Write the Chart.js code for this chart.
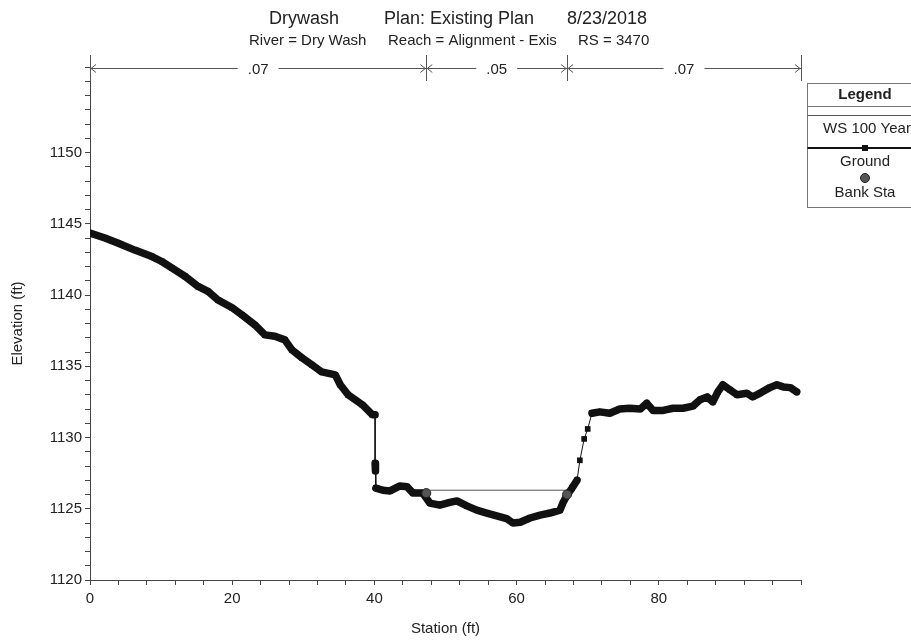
<!DOCTYPE html>
<html>
<head>
<meta charset="utf-8">
<script src="https://cdn.jsdelivr.net/npm/chart.js@4"></script>
<style>
	body { margin: 0; background: #fff; }
	#wrap { width: 911px; height: 641px; }
</style>
</head>
<body>
<div id="wrap"><canvas id="chart"></canvas></div>
<script>
// ground profile
const stations = [0, 2.1, 3.9, 6.3, 8.7, 10.1, 11.5, 13.4, 15.2, 16.6, 18.0, 20.0, 21.4, 23.2, 24.6,
	26.0, 27.4, 28.4, 29.8, 31.2, 32.6, 34.5, 35.2, 36.3, 38.3, 39.7, 40.1, 40.1, 40.15, 40.2,
	41.2, 42.2, 43.6, 44.6, 45.4, 46.8, 47.8, 49.2, 50.6, 51.6, 53.0, 54.4, 55.8, 57.2, 58.6,
	59.5, 60.5, 61.9, 63.3, 64.7, 66.1, 66.5, 67.1, 67.8, 68.5, 68.9, 69.5, 70.0, 70.6, 71.7,
	73.1, 74.5, 75.9, 77.4, 78.3, 79.2, 80.6, 82.0, 83.4, 84.8, 85.8, 86.8, 87.6, 88.3, 89.0,
	90.0, 91.0, 92.4, 93.2, 94.2, 95.6, 96.6, 97.5, 98.5, 99.4]
const elevations = [1144.35, 1144.0, 1143.65, 1143.15, 1142.7, 1142.35, 1141.9, 1141.3, 1140.6, 1140.25, 1139.65, 1139.1, 1138.6, 1137.9, 1137.2,
	1137.1, 1136.85, 1136.15, 1135.6, 1135.1, 1134.6, 1134.4, 1133.7, 1133.0, 1132.3, 1131.6, 1131.6, 1128.2, 1127.65, 1126.45,
	1126.3, 1126.25, 1126.6, 1126.55, 1126.1, 1126.1, 1125.4, 1125.25, 1125.45, 1125.55, 1125.2, 1124.9, 1124.7, 1124.5, 1124.3,
	1124.0, 1124.05, 1124.35, 1124.55, 1124.7, 1124.9, 1125.4, 1125.95, 1126.45, 1127.0, 1128.4, 1129.9, 1130.6, 1131.7, 1131.8,
	1131.7, 1132.0, 1132.05, 1132.0, 1132.4, 1131.9, 1131.9, 1132.05, 1132.05, 1132.2, 1132.65, 1132.85, 1132.5, 1133.2, 1133.7,
	1133.35, 1133.0, 1133.1, 1132.85, 1133.1, 1133.5, 1133.7, 1133.55, 1133.5, 1133.2]

const bankStations = [47.3, 67.1]
const bankElevations = [1126.1, 1126.0]

const wsStations = [45.2, 67.6]
const wsElevation = 1126.3

const nValues = [".07", ".05", ".07"]

const titleParts = ["Drywash", "Plan: Existing Plan", "8/23/2018"]
const subtitleParts = ["River = Dry Wash", "Reach = Alignment - Exis", "RS = 3470"]
const legendItems = ["WS 100 Year", "Ground", "Bank Sta"]

const FONT = "'Liberation Sans', Arial, sans-serif"
Chart.defaults.font.family = FONT
Chart.defaults.color = "#222"

// title, Manning's n bracket and the boxed legend
const decorations = {
	id: "decorations",
	afterDraw(chart) {
		let c = chart.ctx
		let xs = chart.scales.x
		c.save()
		c.fillStyle = "#222"
		c.textBaseline = "middle"
		c.textAlign = "left"

		c.font = "18px " + FONT
		let tx = [269, 384, 567]
		titleParts.forEach((t, i) => c.fillText(t, tx[i], 19))
		c.font = "15px " + FONT
		let sx = [249, 388, 578]
		subtitleParts.forEach((t, i) => c.fillText(t, sx[i], 41))

		// n value bracket
		let breaks = [xs.min].concat(bankStations, [xs.max]).map(v => xs.getPixelForValue(v))
		let y = 68
		c.strokeStyle = "#555"
		c.lineWidth = 1
		c.beginPath()
		breaks.forEach(px => {
			c.moveTo(Math.round(px) + 0.5, 55)
			c.lineTo(Math.round(px) + 0.5, 81)
		})
		c.stroke()
		c.font = "15px " + FONT
		c.textAlign = "center"
		for (let i = 0; i < nValues.length; i++) {
			let a = breaks[i], b = breaks[i + 1]
			let mid = (a + b) / 2
			let half = c.measureText(nValues[i]).width / 2 + 10
			c.beginPath()
			c.moveTo(a, y + 0.5)
			c.lineTo(mid - half, y + 0.5)
			c.moveTo(mid + half, y + 0.5)
			c.lineTo(b, y + 0.5)
			// arrow heads pointing at the break lines
			c.moveTo(a + 6, y - 3.5)
			c.lineTo(a + 1, y + 0.5)
			c.lineTo(a + 6, y + 4.5)
			c.moveTo(b - 6, y - 3.5)
			c.lineTo(b - 1, y + 0.5)
			c.lineTo(b - 6, y + 4.5)
			c.stroke()
			c.fillText(nValues[i], mid, y + 2)
		}

		// legend box
		let lx = 807.5, ly = 83.5, lw = 118, lh = 124
		let cx = 867
		c.strokeStyle = "#777"
		c.strokeRect(lx, ly, lw, lh)
		c.beginPath()
		c.moveTo(lx, 106.5)
		c.lineTo(lx + lw, 106.5)
		c.stroke()
		c.font = "bold 15px " + FONT
		c.fillText("Legend", cx - 2, 95)
		c.font = "15px " + FONT
		// WS
		c.strokeStyle = "#555"
		c.beginPath()
		c.moveTo(lx, 115.5)
		c.lineTo(lx + lw, 115.5)
		c.stroke()
		c.fillText(legendItems[0], cx, 129)
		// Ground
		c.strokeStyle = "#111"
		c.lineWidth = 2
		c.beginPath()
		c.moveTo(lx, 148)
		c.lineTo(lx + lw, 148)
		c.stroke()
		c.fillStyle = "#111"
		c.fillRect(cx - 5, 145, 6, 6)
		c.fillStyle = "#222"
		c.fillText(legendItems[1], cx - 2, 162)
		// Bank Sta
		c.beginPath()
		c.arc(cx - 2, 178, 4.5, 0, Math.PI * 2)
		c.fillStyle = "#555"
		c.fill()
		c.lineWidth = 1
		c.strokeStyle = "#222"
		c.stroke()
		c.fillStyle = "#222"
		c.fillText(legendItems[2], cx - 2, 193)
		c.restore()
	}
}

let ground = stations.map((s, i) => ({x: s, y: elevations[i]}))
let ws = wsStations.map(s => ({x: s, y: wsElevation}))
let banks = bankStations.map((s, i) => ({x: s, y: bankElevations[i]}))

let chart = new Chart(document.getElementById("chart"), {
	type: "line",
	data: {
		datasets: [{
			label: "WS 100 Year",
			data: ws,
			borderColor: "#555",
			borderWidth: 1,
			pointRadius: 0,
			order: 3,
		}, {
			label: "Ground",
			data: ground,
			borderColor: "#111",
			borderCapStyle: "round",
			borderJoinStyle: "round",
			pointStyle: "rect",
			pointRadius: 4,
			pointBackgroundColor: "#111",
			pointBorderWidth: 0,
			segment: {
				// steep drops are drawn thin, the rest is packed with markers
				borderWidth: ctx => {
					let dx = Math.abs(ctx.p1.x - ctx.p0.x)
					let dy = Math.abs(ctx.p1.y - ctx.p0.y)
					return (dy > 8 && dy > 2.2 * dx) ? 1 : 7.5
				},
			},
			order: 2,
		}, {
			label: "Bank Sta",
			data: banks,
			showLine: false,
			pointStyle: "circle",
			pointRadius: 4.5,
			pointBackgroundColor: "#555",
			pointBorderColor: "#222",
			pointBorderWidth: 1,
			order: 1,
		}],
	},
	options: {
		animation: false,
		responsive: true,
		maintainAspectRatio: false,
		layout: {
			padding: {top: 67, right: 110, bottom: 0, left: 0},
		},
		plugins: {
			legend: {display: false},
			tooltip: {enabled: false},
		},
		scales: {
			x: {
				type: "linear",
				min: 0,
				max: 100,
				border: {color: "#444"},
				grid: {drawOnChartArea: false, tickLength: 5, color: "#444"},
				ticks: {
					stepSize: 4,
					autoSkip: false,
					maxRotation: 0,
					padding: 5,
					font: {size: 15},
					callback: v => (v % 20 === 0 && v < 100) ? v : "",
				},
				title: {display: true, text: "Station (ft)", font: {size: 15}, padding: {top: 0, bottom: 3}},
				afterFit: s => { s.height = 61 },
			},
			y: {
				min: 1120,
				max: 1156,
				border: {color: "#444"},
				grid: {drawOnChartArea: false, tickLength: 5, color: "#444"},
				ticks: {
					stepSize: 1,
					autoSkip: false,
					padding: 3,
					font: {size: 15},
					callback: v => (v % 5 === 0 && v <= 1150) ? v : "",
				},
				title: {display: true, text: "Elevation (ft)", font: {size: 15}, padding: {top: 9, bottom: 0}},
				afterFit: s => { s.width = 90 },
			},
		},
	},
	plugins: [decorations],
})
</script>
</body>
</html>
